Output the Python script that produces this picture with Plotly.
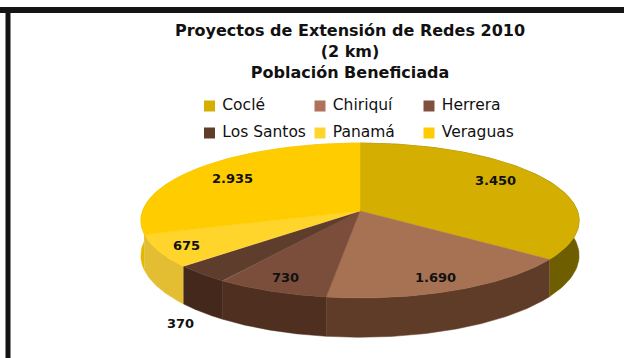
import numpy as np
import plotly.graph_objects as go

# Data
categories = ["Coclé", "Chiriquí", "Herrera", "Los Santos", "Panamá", "Veraguas"]
values = [3450, 1690, 730, 370, 675, 2935]
value_labels = ["3.450", "1.690", "730", "370", "675", "2.935"]

# Styles
top_colors = ["#D4AE00", "#A67253", "#7A4E3B", "#5E3D2D", "#FFD52B", "#FFCC00"]
side_colors = ["#6E5E00", "#5E3C27", "#4E2F20", "#43281B", "#E3BE32", "#E3B600"]
swatch_colors = ["#D4AE00", "#B0705A", "#80503F", "#5E3D2D", "#FFD52B", "#FFCC00"]

W, H = 624, 358
CX, CY = 360, 211      # pie centre on the canvas
A, B = 217.5, 76.3     # horizontal / vertical radius
K = 0.1226             # perspective
DEPTH = 34.5


def project(theta_deg, r=1.0, drop=0.0):
    t = np.radians(theta_deg)
    X, Y = r * np.sin(t), -r * np.cos(t)
    s = 1 / (1 - K * Y)
    return CX + A * X * s, CY + B * Y * s + drop * s


total = sum(values)
edges = np.concatenate([[0], np.cumsum(values)]) / total * 360

fig = go.Figure()

# outer walls, back to front
for i in np.argsort([-abs(((edges[j] + edges[j + 1]) / 2) - 180) for j in range(6)]):
    th = np.linspace(edges[i], edges[i + 1], 80)
    x1, y1 = project(th)
    x2, y2 = project(th[::-1], drop=DEPTH)
    fig.add_trace(go.Scatter(x=np.r_[x1, x2], y=np.r_[y1, y2], mode="lines", fill="toself",
                             fillcolor=side_colors[i], line=dict(width=0.5, color=side_colors[i]),
                             hoverinfo="skip", showlegend=False))

# top faces
for i in range(6):
    th = np.linspace(edges[i], edges[i + 1], 80)
    x, y = project(th)
    fig.add_trace(go.Scatter(x=np.r_[CX, x, CX], y=np.r_[CY, y, CY], mode="lines", fill="toself",
                             fillcolor=top_colors[i], line=dict(width=0.5, color=top_colors[i]),
                             name=categories[i], text=f"{categories[i]}: {value_labels[i]}",
                             hoverinfo="text", showlegend=False))

# value labels
label_radius = [0.78, 0.85, 0.85, 1.43, 0.87, 0.77]
label_turn = [-6, 1.5, 0, -12, 0, 0]
for i in range(6):
    mid = (edges[i] + edges[i + 1]) / 2 + label_turn[i]
    x, y = project(mid, label_radius[i])
    fig.add_annotation(x=x, y=y, text=value_labels[i], showarrow=False,
                       font=dict(family="DejaVu Sans", size=13, color="#111111", weight=700))

# legend grid
legend_x = [209.5, 320, 429]
legend_y = [106, 133]
for i in range(6):
    fig.add_trace(go.Scatter(x=[legend_x[i % 3]], y=[legend_y[i // 3]], mode="markers+text",
                             marker=dict(symbol="square", size=11, color=swatch_colors[i]),
                             text=[" " + categories[i]], textposition="middle right",
                             textfont=dict(family="DejaVu Sans", size=15.5, color="#111111"),
                             hoverinfo="skip", showlegend=False, cliponaxis=False))

fig.update_layout(
    width=W, height=H, margin=dict(l=0, r=0, t=0, b=0),
    paper_bgcolor="white", plot_bgcolor="white",
    xaxis=dict(range=[0, W], visible=False, fixedrange=True),
    yaxis=dict(range=[H, 0], visible=False, fixedrange=True),
    title=dict(text="<b>Proyectos de Extensión de Redes 2010<br>(2 km)<br>Población Beneficiada</b>",
               x=350 / W, xanchor="center", y=1 - 36 / H, yanchor="top",
               font=dict(family="DejaVu Sans", size=16, color="#111111")),
    shapes=[
        dict(type="line", xref="x", yref="y", x0=0, x1=W, y0=10, y1=10, line=dict(color="#141414", width=6)),
        dict(type="line", xref="x", yref="y", x0=8, x1=8, y0=7, y1=H, line=dict(color="#141414", width=5)),
    ],
)

fig.write_html("out.html", config={"displayModeBar": False},
               post_script="document.body.style.margin='0';document.body.style.overflow='hidden';")
